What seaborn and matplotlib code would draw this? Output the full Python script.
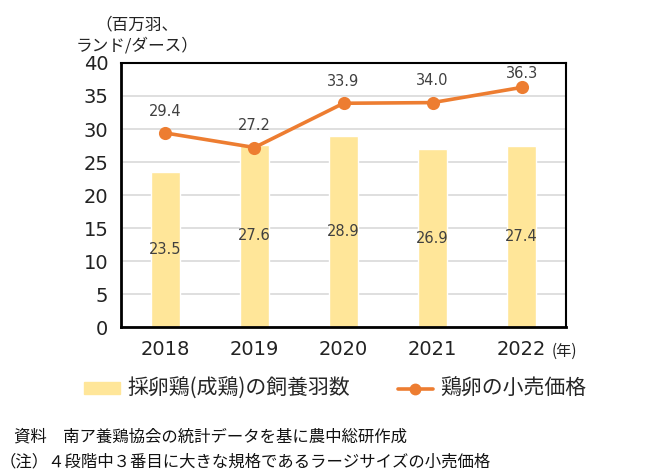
import matplotlib
matplotlib.use("Agg")
import matplotlib.pyplot as plt
import seaborn as sns
import pandas as pd
from matplotlib.patches import Patch
from matplotlib.lines import Line2D

years = ["2018", "2019", "2020", "2021", "2022"]
hens = [23.5, 27.6, 28.9, 26.9, 27.4]      # 採卵鶏(成鶏)の飼養羽数 (百万羽)
price = [29.4, 27.2, 33.9, 34.0, 36.3]     # 鶏卵の小売価格 (ランド/ダース)
yticks = [0, 5, 10, 15, 20, 25, 30, 35, 40]

sns.set_theme(style="white")
plt.rcParams["font.family"] = ["Noto Sans CJK JP", "DejaVu Sans"]

bar_col = "#FFE699"
line_col = "#ED7D31"
txt_col = "#404040"
num_font = ["DejaVu Sans"]

df = pd.DataFrame({"year": years, "hens": hens, "price": price})

fig = plt.figure(figsize=(6.5, 4.7), dpi=100)
ax = fig.add_axes([0.186, 0.304, 0.685, 0.562])

sns.barplot(data=df, x="year", y="hens", color=bar_col, width=0.32,
            saturation=1, ax=ax, zorder=2)
sns.pointplot(data=df, x="year", y="price", color=line_col, markers="o",
              linestyles="-", markersize=7.5, linewidth=2.6, ax=ax, zorder=3)

# data labels (Excel style: bar labels centred, line labels above, kept inside the box)
for i, v in enumerate(hens):
    ax.text(i, v / 2, f"{v:.1f}", ha="center", va="center",
            fontsize=10.5, color=txt_col, family=num_font, zorder=4)
for i, v in enumerate(price):
    ax.text(i, min(v + 3.3, 38.4), f"{v:.1f}", ha="center", va="center",
            fontsize=10.5, color=txt_col, family=num_font, zorder=4)

ax.set_ylim(0, 40)
ax.set_xlim(-0.5, 4.5)
ax.set_yticks(yticks)
ax.yaxis.grid(True, color="#d9d9d9", linewidth=1.2, zorder=0)
ax.set_axisbelow(True)
ax.set_xlabel("")
ax.set_ylabel("")
ax.tick_params(axis="both", length=0, labelsize=14, colors="#222222")
ax.tick_params(axis="x", pad=9)
ax.tick_params(axis="y", pad=9)
for lab in ax.get_xticklabels() + ax.get_yticklabels():
    lab.set_family(num_font)
for s in ax.spines.values():
    s.set_color("black")
    s.set_linewidth(1.5)
ax.spines["left"].set_linewidth(2)
ax.spines["bottom"].set_linewidth(2)

fig.text(0.211, 0.965, "（百万羽、\nランド/ダース）", fontsize=12, color="#222222",
         ha="center", va="top", linespacing=1.3, multialignment="center")
fig.text(0.849, 0.252, "(年)", fontsize=11, color="#222222", ha="left", va="center")

handles = [Patch(color=bar_col, label="採卵鶏(成鶏)の飼養羽数"),
           Line2D([0], [0], color=line_col, lw=2.6, marker="o", markersize=7.5,
                  label="鶏卵の小売価格")]
fig.legend(handles=handles, loc="center", bbox_to_anchor=(0.516, 0.172), ncol=2,
           frameon=False, fontsize=15, handlelength=1.7, handleheight=0.5,
           columnspacing=2.3, handletextpad=0.35)

fig.text(0.022, 0.07, "資料　南ア養鶏協会の統計データを基に農中総研作成",
         fontsize=11.8, color="#111111", ha="left", va="center")
fig.text(0.0, 0.018, "（注）４段階中３番目に大きな規格であるラージサイズの小売価格",
         fontsize=11.8, color="#111111", ha="left", va="center")

fig.savefig("out.png", dpi=100)
